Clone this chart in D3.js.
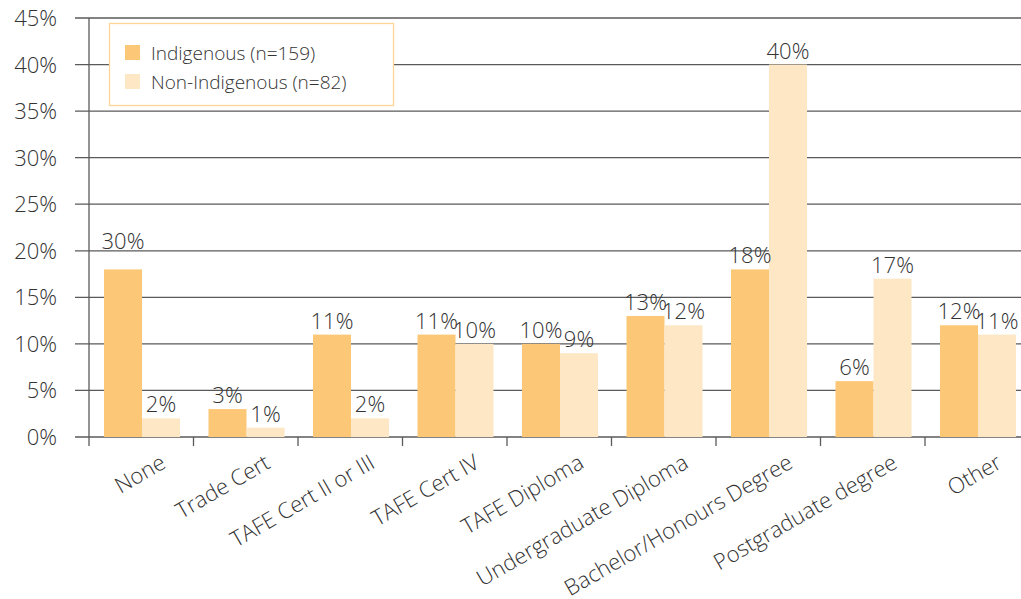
<!DOCTYPE html>
<html>
<head>
<meta charset="utf-8">
<script src="https://d3js.org/d3.v7.min.js"></script>
<style>
  body { margin: 0; background: #fff; }
  text { font-family: "Open Sans", Roboto, sans-serif; font-weight: 300; fill: #333; }
</style>
</head>
<body>
<script>
// chart data
const categories = ["None", "Trade Cert", "TAFE Cert II or III", "TAFE Cert IV", "TAFE Diploma",
  "Undergraduate Diploma", "Bachelor/Honours Degree", "Postgraduate degree", "Other"];
const seriesNames = ["Indigenous (n=159)", "Non-Indigenous (n=82)"];
const indigenous = [18, 3, 11, 11, 10, 13, 18, 6, 12];
const nonIndigenous = [2, 1, 2, 10, 9, 12, 40, 17, 11];
// printed labels (the "None" bar is labelled 30% in the source)
const indigenousLabels = ["30%", "3%", "11%", "11%", "10%", "13%", "18%", "6%", "12%"];
const nonIndigenousLabels = ["2%", "1%", "2%", "10%", "9%", "12%", "40%", "17%", "11%"];
const yTicks = [0, 5, 10, 15, 20, 25, 30, 35, 40, 45];
const colors = ["#fcc877", "#fde7c4"];

const W = 1021, H = 599;
const svg = d3.select("body").append("svg")
  .attr("width", W)
  .attr("height", H);

const plotLeft = 89, plotBottom = 437, plotTop = 18;
const bandW = 104.5;

const x = d3.scaleBand()
  .domain(categories)
  .range([plotLeft, plotLeft + bandW * categories.length]);

const x1 = d3.scaleBand()
  .domain([0, 1])
  .range([15, 91]);

const y = d3.scaleLinear()
  .domain([0, 45])
  .range([plotBottom, plotTop]);

// gridlines
svg.append("g").selectAll("line")
  .data(yTicks)
  .enter().append("line")
  .attr("x1", 75)
  .attr("x2", W)
  .attr("y1", d => y(d))
  .attr("y2", d => y(d))
  .style("stroke", "#5a5a5a")
  .style("stroke-width", 1.3);

// y tick labels
svg.append("g").selectAll("text")
  .data(yTicks)
  .enter().append("text")
  .attr("x", 57)
  .attr("y", d => y(d) + 8)
  .attr("text-anchor", "end")
  .style("font-size", "22px")
  .text(d => d + "%");

// bars
const rows = categories.map((c, i) => ({
  cat: c,
  vals: [indigenous[i], nonIndigenous[i]],
  labels: [indigenousLabels[i], nonIndigenousLabels[i]]
}));

const groups = svg.append("g").selectAll("g")
  .data(rows)
  .enter().append("g")
  .attr("transform", d => `translate(${x(d.cat)},0)`);

groups.selectAll("rect")
  .data(d => d.vals)
  .enter().append("rect")
  .attr("x", (d, i) => x1(i))
  .attr("width", x1.bandwidth())
  .attr("y", d => y(d))
  .attr("height", d => plotBottom - y(d))
  .style("fill", (d, i) => colors[i]);

// value labels
groups.selectAll("text")
  .data(d => d.vals.map((v, i) => ({ v: v, i: i, label: d.labels[i], cat: d.cat })))
  .enter().append("text")
  .attr("x", d => x1(d.i) + x1.bandwidth() / 2)
  .attr("y", d => y(d.v) - (d.cat === "None" && d.i === 0 ? 20 : 6))
  .attr("text-anchor", "middle")
  .style("font-size", "22px")
  .text(d => d.label);

// axis lines
svg.append("line")
  .attr("x1", plotLeft).attr("x2", plotLeft)
  .attr("y1", plotTop).attr("y2", plotBottom + 9)
  .style("stroke", "#5a5a5a")
  .style("stroke-width", 1.3);

svg.append("g").selectAll("line")
  .data(categories.slice(1))
  .enter().append("line")
  .attr("x1", d => x(d)).attr("x2", d => x(d))
  .attr("y1", plotBottom).attr("y2", plotBottom + 9)
  .style("stroke", "#5a5a5a")
  .style("stroke-width", 1.3);

// category labels
svg.append("g").selectAll("text")
  .data(categories)
  .enter().append("text")
  .attr("text-anchor", "end")
  .attr("transform", d => `translate(${x(d) + bandW / 2 + 26},${467}) rotate(-30)`)
  .style("font-size", "22px")
  .text(d => d);

// legend
const legend = svg.append("g");
legend.append("rect")
  .attr("x", 109.5).attr("y", 23.5)
  .attr("width", 284).attr("height", 82)
  .style("fill", "#fff")
  .style("stroke", "#fdd596")
  .style("stroke-width", 1.3);

seriesNames.forEach((name, i) => {
  legend.append("rect")
    .attr("x", 125).attr("y", 45 + i * 29)
    .attr("width", 15).attr("height", 15)
    .style("fill", colors[i]);
  legend.append("text")
    .attr("x", 151).attr("y", 60 + i * 29)
    .style("font-size", "19px")
    .text(name);
});
</script>
</body>
</html>
